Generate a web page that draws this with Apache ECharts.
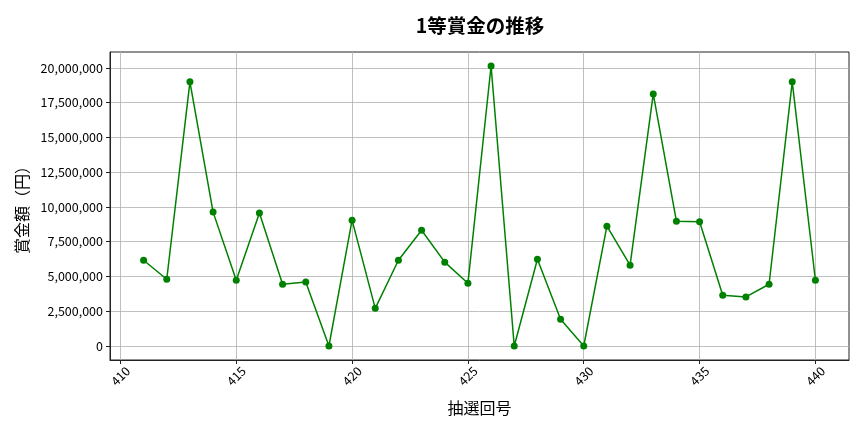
<!DOCTYPE html>
<html>
<head>
<meta charset="utf-8">
<script src="https://cdn.jsdelivr.net/npm/echarts@6/dist/echarts.min.js"></script>
<style>
html, body { margin: 0; padding: 0; background: #fff; }
#main { width: 864px; height: 432px; }
</style>
</head>
<body>
<div id="main"></div>
<script>
// 抽選回号
var rounds = [411, 412, 413, 414, 415, 416, 417, 418, 419, 420,
	421, 422, 423, 424, 425, 426, 427, 428, 429, 430,
	431, 432, 433, 434, 435, 436, 437, 438, 439, 440];
// 1等賞金（円）
var prizes = [6170000, 4800000, 19000000, 9630000, 4730000, 9560000, 4440000, 4610000, 0, 9050000,
	2710000, 6170000, 8330000, 6030000, 4510000, 20140000, 0, 6240000, 1920000, 0,
	8620000, 5810000, 18130000, 8980000, 8930000, 3650000, 3530000, 4440000, 19000000, 4730000];
var yTicks = [0, 2500000, 5000000, 7500000, 10000000, 12500000, 15000000, 17500000, 20000000];
var xTicks = [410, 415, 420, 425, 430, 435, 440];

var font = '"Noto Sans CJK JP", "Noto Sans", sans-serif';
var points = [];
for (var i = 0; i < rounds.length; i++) {
	points.push([rounds[i], prizes[i]]);
}

var chart = echarts.init(document.getElementById('main'));
var option = {
	backgroundColor: '#fff',
	animation: false,
	title: {
		text: '1等賞金の推移',
		left: 475,
		top: 11,
		textAlign: 'center',
		textStyle: { fontFamily: font, fontSize: 19.5, fontWeight: 'bold', color: '#000' }
	},
	grid: {
		left: 110, right: 15, top: 52, bottom: 72,
		show: true, borderColor: '#222', borderWidth: 1
	},
	xAxis: {
		type: 'value',
		min: 409.55,
		max: 441.45,
		name: '抽選回号',
		nameLocation: 'middle',
		nameGap: 40,
		nameTextStyle: { fontFamily: font, fontSize: 16, color: '#000' },
		axisLine: { show: true, onZero: false, lineStyle: { color: '#222' } },
		axisTick: { show: true, inside: false, length: 4, customValues: xTicks, lineStyle: { color: '#222' } },
		axisLabel: {
			rotate: 45, margin: 16, align: 'center', verticalAlign: 'middle',
			fontFamily: font, fontSize: 12.5, color: '#000',
			customValues: xTicks
		},
		splitLine: { show: true, lineStyle: { color: '#b0b0b0', width: 0.8 } }
	},
	yAxis: {
		type: 'value',
		min: -1007000,
		max: 21147000,
		name: '賞金額（円）',
		nameLocation: 'middle',
		nameGap: 80,
		nameTextStyle: { fontFamily: font, fontSize: 16, color: '#000' },
		axisLine: { show: true, onZero: false, lineStyle: { color: '#222' } },
		axisTick: { show: true, inside: false, length: 4, customValues: yTicks, lineStyle: { color: '#222' } },
		axisLabel: {
			margin: 7, fontFamily: font, fontSize: 12.5, color: '#000',
			customValues: yTicks,
			formatter: function (v) {
				return Math.round(v).toString().replace(/\B(?=(\d{3})+(?!\d))/g, ',');
			}
		},
		splitLine: { show: true, lineStyle: { color: '#b0b0b0', width: 0.8 } }
	},
	series: [
		{
			name: '1等賞金',
			type: 'line',
			data: points,
			symbol: 'circle',
			symbolSize: 7,
			color: '#008000',
			lineStyle: { color: '#008000', width: 1.5 },
			itemStyle: { color: '#008000' }
		}
	]
};
chart.setOption(option);
</script>
</body>
</html>
